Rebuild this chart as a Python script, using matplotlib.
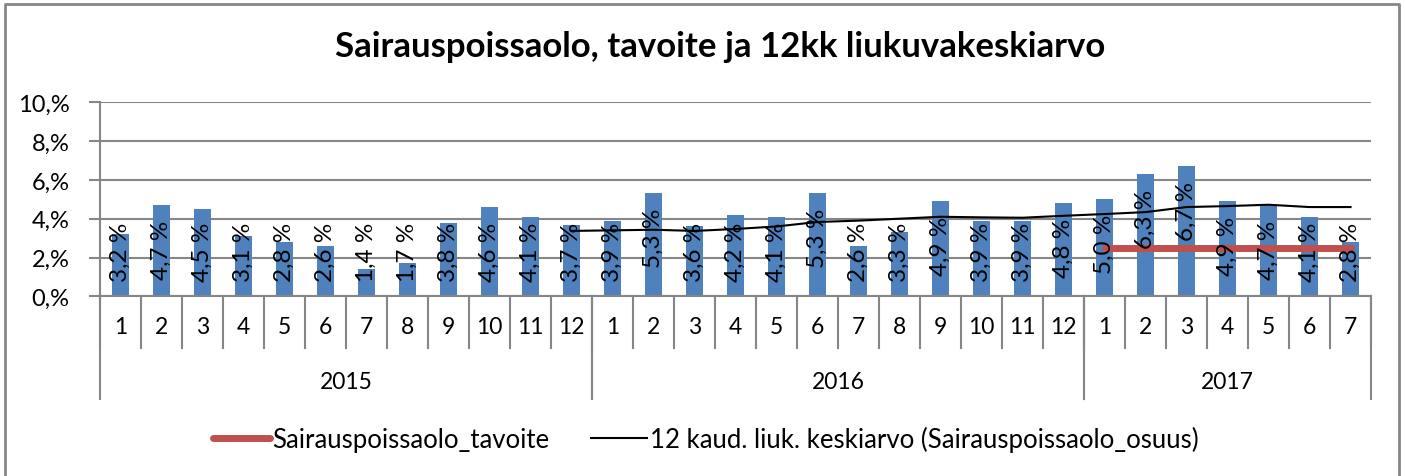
import matplotlib
matplotlib.use("Agg")
import matplotlib.pyplot as plt
import matplotlib.transforms as mtransforms
import numpy as np

plt.rcParams['font.family'] = ['Lato', 'DejaVu Sans']

years = ['2015', '2016', '2017']
months_per_year = [12, 12, 7]
months = [str(m) for n in months_per_year for m in range(1, n + 1)]

# Sairauspoissaolo_osuus, % per month
osuus = [3.2, 4.7, 4.5, 3.1, 2.8, 2.6, 1.4, 1.7, 3.8, 4.6, 4.1, 3.7,
         3.9, 5.3, 3.6, 4.2, 4.1, 5.3, 2.6, 3.3, 4.9, 3.9, 3.9, 4.8,
         5.0, 6.3, 6.7, 4.9, 4.7, 4.1, 2.8]
# 12 month rolling average, starts at 2015/12
liuk = [np.nan] * 11 + [3.37, 3.40, 3.43, 3.37, 3.47, 3.60, 3.83, 3.90,
                        4.00, 4.10, 4.07, 4.05, 4.15, 4.24, 4.34, 4.60,
                        4.65, 4.72, 4.60, 4.60]
# target, only for 2017
tavoite = [np.nan] * 24 + [2.5] * 7

bar_color = '#4F81BD'
grid_color = '#868686'

fig = plt.figure(figsize=(14.05, 4.77), dpi=100)
ax = fig.add_axes([100 / 1405, 1 - 297.3 / 477, 1271 / 1405, 194 / 477])

x = np.arange(len(osuus))
ax.bar(x, osuus, width=0.4, color=bar_color, zorder=2)
ax.plot(x, tavoite, color='#C0504D', lw=5, solid_capstyle='round', zorder=4)
ax.plot(x, liuk, color='black', lw=1.5, zorder=3)

for xi, v in zip(x, osuus):
    top = max(3.85, v - 0.75)
    ax.text(xi, top, ('%.1f' % v).replace('.', ',') + ' %', rotation=90,
            ha='center', va='top', fontsize=17.5, zorder=5)

ax.set_xlim(-0.5, len(osuus) - 0.5)
ax.set_ylim(0, 10)
ax.set_yticks(np.arange(0, 11, 2))
ax.set_yticklabels(['%d,%%' % t for t in range(0, 11, 2)], fontsize=17)
ax.yaxis.grid(True, color=grid_color, lw=1.5, zorder=0)
ax.tick_params(axis='y', length=8, width=1.5, color=grid_color, pad=14)
ax.set_xticks([])
for s in ['top', 'right']:
    ax.spines[s].set_visible(False)
ax.spines['left'].set_color(grid_color)
ax.spines['left'].set_linewidth(1.5)
ax.spines['bottom'].set_color(grid_color)
ax.spines['bottom'].set_linewidth(1.5)

# two-level category axis
trans = mtransforms.blended_transform_factory(ax.transData, ax.transAxes)
month_drop = 52 / 194
year_drop = 103 / 194
for b in np.arange(-0.5, len(osuus), 1.0):
    ax.plot([b, b], [0, -month_drop], color=grid_color, lw=1.5,
            transform=trans, clip_on=False)
for xi, m in zip(x, months):
    ax.text(xi, -30 / 194, m, transform=trans, ha='center', va='center',
            fontsize=16.5)
start = 0
for yr, n in zip(years, months_per_year):
    for b in [start - 0.5, start + n - 0.5]:
        ax.plot([b, b], [0, -year_drop], color=grid_color, lw=1.5,
                transform=trans, clip_on=False)
    ax.text(start + (n - 1) / 2, -85 / 194, yr, transform=trans,
            ha='center', va='center', fontsize=16.5)
    start += n

fig.text(720 / 1405, 1 - 47 / 477,
         'Sairauspoissaolo, tavoite ja 12kk liukuvakeskiarvo',
         ha='center', va='center', fontsize=25, fontweight='bold')

h1, = ax.plot([], [], color='#C0504D', lw=5, solid_capstyle='round')
h2, = ax.plot([], [], color='black', lw=1.5)
fig.legend([h1, h2], ['Sairauspoissaolo_tavoite',
                      '12 kaud. liuk. keskiarvo (Sairauspoissaolo_osuus)'],
           loc='center', bbox_to_anchor=(706 / 1405, 1 - 440 / 477), ncol=2,
           frameon=False, fontsize=18.5, handlelength=2.2, handletextpad=0.1,
           columnspacing=1.6)

# outer chart border
fig.add_artist(plt.Line2D([5 / 1405, 5 / 1405, 1399 / 1405, 1399 / 1405],
                          [0, 1 - 5 / 477, 1 - 5 / 477, 0],
                          color=grid_color, lw=2, transform=fig.transFigure))

fig.savefig('out.png', dpi=100)
